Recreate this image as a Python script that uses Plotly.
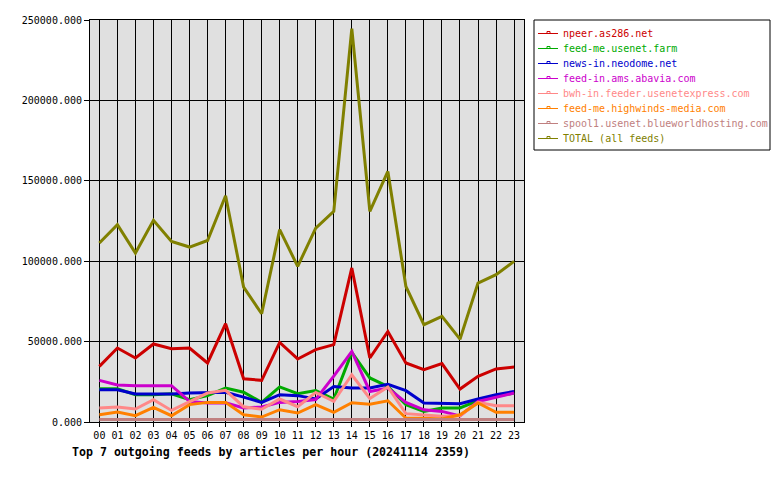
import plotly.graph_objects as go

hours = ["00","01","02","03","04","05","06","07","08","09","10","11",
         "12","13","14","15","16","17","18","19","20","21","22","23"]

npeer = [34600, 46000, 39800, 48500, 45600, 46000, 36700, 61100, 26900, 25900, 49500, 39200,
         45000, 48100, 95800, 39800, 56300, 36700, 32500, 36300, 20500, 28400, 33000, 34200]
usenet_farm = [20700, 20700, 17000, 17000, 17500, 13900, 16400, 21100, 18500, 12200, 21800, 17600,
               19500, 14300, 43300, 27400, 22100, 10800, 6600, 8700, 8700, 13300, 16000, 18000]
neodome = [20100, 20100, 17400, 17400, 17400, 18000, 18400, 18500, 15500, 12200, 17000, 16400,
           14300, 22100, 21100, 21100, 23400, 19500, 11800, 11400, 11400, 14300, 17000, 19000]
abavia = [25900, 23000, 22600, 22600, 22600, 12800, 11800, 12000, 8700, 9300, 12200, 12800,
          14000, 28500, 43900, 19000, 21100, 12200, 7600, 6600, 3800, 12800, 15500, 18000]
usenetexpress = [8700, 9300, 8100, 13900, 7200, 12800, 18000, 19700, 9500, 7900, 14300, 9500,
                 18400, 12800, 29400, 14600, 21800, 5200, 4200, 3500, 3900, 12200, 10100, 10100]
highwinds = [4500, 6200, 3900, 9100, 3900, 10800, 12200, 12200, 4500, 3100, 7650, 5600,
             10800, 6000, 12000, 11000, 13200, 2500, 2400, 1900, 4500, 11800, 6000, 6000]
blueworld = [1600, 1600, 1600, 1600, 1600, 1600, 1600, 1600, 1900, 1900, 1600, 1600,
             1600, 1600, 1600, 1600, 1600, 1600, 1600, 1600, 1600, 1600, 1600, 1600]
total = [111300, 122700, 105100, 125400, 112300, 108800, 112900, 140700, 83900, 67300, 119600, 96800,
         120600, 131000, 244600, 131000, 155800, 84300, 60500, 65700, 51500, 86400, 91600, 99900]

series = [
    ("npeer.as286.net", npeer, "#cc0000"),
    ("feed-me.usenet.farm", usenet_farm, "#00aa00"),
    ("news-in.neodome.net", neodome, "#0000cc"),
    ("feed-in.ams.abavia.com", abavia, "#cc00cc"),
    ("bwh-in.feeder.usenetexpress.com", usenetexpress, "#ff8888"),
    ("feed-me.highwinds-media.com", highwinds, "#ff8000"),
    ("spool1.usenet.blueworldhosting.com", blueworld, "#c08080"),
    ("TOTAL (all feeds)", total, "#808000"),
]

FONT = "DejaVu Sans Mono"
xs = list(range(len(hours)))

# plot area in pixels
PL, PR, PT, PB = 90, 524, 20, 422
def px(x):
    return (x - PL) / (PR - PL)
def py(y):
    return (PB - y) / (PB - PT)

fig = go.Figure()
for name, vals, col in series:
    fig.add_trace(go.Scatter(
        x=xs, y=vals, mode="lines", name=name,
        line=dict(color=col, width=3),
    ))

shapes = [dict(type="rect", xref="paper", yref="paper",
               x0=px(534), x1=px(770), y0=py(20), y1=py(150),
               line=dict(color="black", width=1), fillcolor="white", layer="above")]
annotations = []
for i, (name, vals, col) in enumerate(series):
    yy = 33.5 + 15 * i
    shapes.append(dict(type="line", xref="paper", yref="paper",
                       x0=px(538), x1=px(558), y0=py(yy), y1=py(yy),
                       line=dict(color=col, width=1), layer="above"))
    shapes.append(dict(type="rect", xref="paper", yref="paper",
                       x0=px(547), x1=px(550), y0=py(yy), y1=py(yy - 2),
                       line=dict(color=col, width=1), fillcolor="white", layer="above"))
    annotations.append(dict(text=name, xref="paper", yref="paper",
                            x=px(561), y=py(yy), xanchor="left", yanchor="middle",
                            showarrow=False, font=dict(family=FONT, size=10, color=col)))

annotations.append(dict(
    text="<b>Top 7 outgoing feeds by articles per hour (20241114 2359)</b>",
    xref="paper", yref="paper", x=px(70), y=py(452),
    xanchor="left", yanchor="middle", showarrow=False,
    font=dict(family=FONT, size=11.6, color="black")))

fig.update_layout(
    width=780, height=480,
    margin=dict(l=PL, r=780 - PR, t=PT, b=480 - PB),
    paper_bgcolor="white", plot_bgcolor="#e0e0e0",
    font=dict(family=FONT, size=10, color="black"),
    showlegend=False,
    xaxis=dict(range=[-0.52, 23.55], tickmode="array", tickvals=xs, ticktext=hours,
               showgrid=True, gridcolor="black", gridwidth=1,
               showline=True, linecolor="black", linewidth=1, mirror=True,
               ticks="outside", ticklen=4, tickcolor="black", zeroline=False,
               tickfont=dict(family=FONT, size=10)),
    yaxis=dict(range=[0, 250000], tickmode="array",
               tickvals=[0, 50000, 100000, 150000, 200000, 250000],
               ticktext=["0.000", "50000.000", "100000.000", "150000.000", "200000.000", "250000.000"],
               showgrid=True, gridcolor="black", gridwidth=1,
               showline=True, linecolor="black", linewidth=1, mirror=True,
               ticks="outside", ticklen=5, tickcolor="black", zeroline=False,
               tickfont=dict(family=FONT, size=10)),
    shapes=shapes,
    annotations=annotations,
)

fig.write_html("out.html")
